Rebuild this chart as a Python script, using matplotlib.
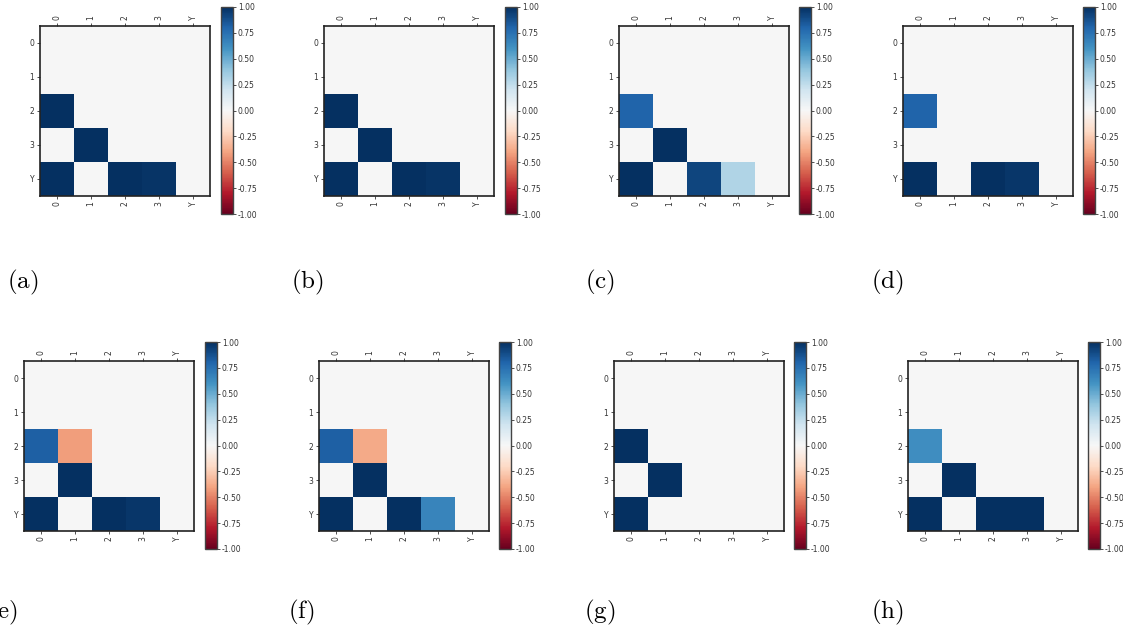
import matplotlib
matplotlib.use("Agg")
import matplotlib.pyplot as plt
import numpy as np

plt.rcParams['mathtext.fontset'] = 'cm'

names = ['0', '1', '2', '3', 'Y']

# lower-triangle values (row, col) -> value, rows/cols in order 0,1,2,3,Y
panel_a = {(2, 0): 1.0, (3, 1): 1.0, (4, 0): 1.0, (4, 2): 1.0, (4, 3): 0.98}
panel_b = {(2, 0): 1.0, (3, 1): 1.0, (4, 0): 1.0, (4, 2): 1.0, (4, 3): 0.98}
panel_c = {(2, 0): 0.80, (3, 1): 1.0, (4, 0): 1.0, (4, 2): 0.92, (4, 3): 0.30}
panel_d = {(2, 0): 0.80, (4, 0): 1.0, (4, 2): 1.0, (4, 3): 0.97}
panel_e = {(2, 0): 0.82, (2, 1): -0.42, (3, 1): 1.0, (4, 0): 1.0, (4, 2): 1.0, (4, 3): 0.97}
panel_f = {(2, 0): 0.82, (2, 1): -0.38, (3, 1): 1.0, (4, 0): 1.0, (4, 2): 1.0, (4, 3): 0.66}
panel_g = {(2, 0): 1.0, (3, 1): 1.0, (4, 0): 1.0}
panel_h = {(2, 0): 0.62, (3, 1): 1.0, (4, 0): 1.0, (4, 2): 1.0, (4, 3): 1.0}

panels = [panel_a, panel_b, panel_c, panel_d, panel_e, panel_f, panel_g, panel_h]
labels = ['(a)', '(b)', '(c)', '(d)', '(e)', '(f)', '(g)', '(h)']

W, H = 1123, 633
# pixel boxes: axes left, cbar left, label left
ax_left = [40, 324, 619, 903, 24, 319, 614, 908]
cb_left = [221, 505, 799, 1083, 205, 499, 794, 1088]
lab_left = [7, 291, 585, 871, -12, 288, 584, 871]
ax_top = [26, 26, 26, 26, 361, 361, 361, 361]
cb_top = [7, 7, 7, 7, 342, 342, 342, 342]
lab_y = [282, 282, 282, 282, 612, 612, 612, 612]
size = 170
cb_h = 207
cb_w = 12

fig = plt.figure(figsize=(W / 100, H / 100), dpi=100)

for i, vals in enumerate(panels):
    m = np.zeros((5, 5))
    for (r, c), v in vals.items():
        m[r, c] = v
    ax = fig.add_axes([ax_left[i] / W, 1 - (ax_top[i] + size) / H, size / W, size / H])
    im = ax.imshow(m, cmap='RdBu', vmin=-1, vmax=1)
    ax.set_xticks(range(5))
    ax.set_yticks(range(5))
    ax.set_xticklabels(names, rotation=90)
    ax.set_yticklabels(names)
    ax.tick_params(top=True, labeltop=True, bottom=True, labelbottom=True,
                   labelsize=5.5, length=2, width=0.6, pad=2, colors='#333333')
    for s in ax.spines.values():
        s.set_linewidth(1.2)
        s.set_color('#222222')

    cax = fig.add_axes([cb_left[i] / W, 1 - (cb_top[i] + cb_h) / H, cb_w / W, cb_h / H])
    cb = fig.colorbar(im, cax=cax, ticks=np.arange(-1, 1.01, 0.25), format='%.2f')
    cb.ax.tick_params(labelsize=5.5, length=2, width=0.6, pad=1.5, colors='#333333')
    cb.outline.set_linewidth(1.0)
    cb.outline.set_edgecolor('#444444')

    fig.text(lab_left[i] / W, 1 - lab_y[i] / H, r'$\mathrm{' + labels[i] + '}$',
             fontsize=18, ha='left', va='center')

fig.savefig('out.png', dpi=100)
